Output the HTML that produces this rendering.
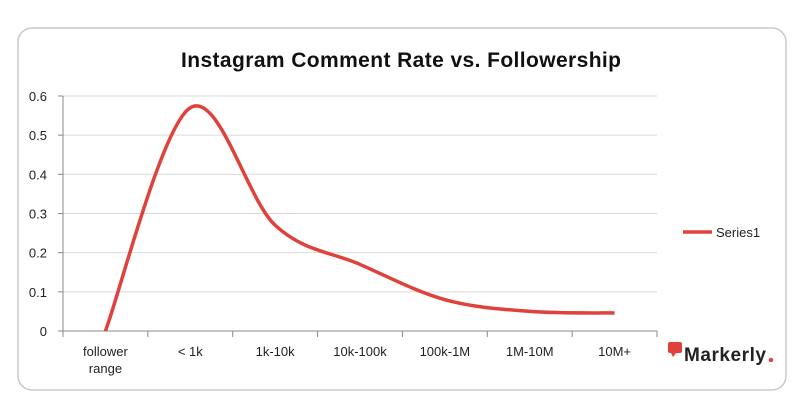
<!DOCTYPE html>
<html><head><style>
body{margin:0;background:#fff;width:797px;height:413px;overflow:hidden;font-family:"Liberation Sans",sans-serif}
</style></head><body>
<svg width="797" height="413">
<rect x="18" y="28" width="768" height="362" rx="14" fill="#fff" stroke="#c8c8c8" stroke-width="1.5"/>
<text x="401" y="67" text-anchor="middle" font-size="21" font-weight="bold" fill="#111" textLength="440">Instagram Comment Rate vs. Followership</text>
<g id="grid"></g><g id="axes"></g><path id="line" fill="none" stroke="#e0413a" stroke-width="3.5"/>
<line x1="683" y1="232" x2="712" y2="232" stroke="#e0413a" stroke-width="3.5"/>
<text x="716" y="237" font-size="13" fill="#222">Series1</text>
<g>
<rect x="668" y="342" width="14" height="11" rx="2" fill="#e0413a"/>
<path d="M671 353 L673 357 L676 353Z" fill="#e0413a"/>
<text x="684" y="361" font-size="19" font-weight="bold" fill="#222" textLength="82">Markerly</text>
<circle cx="771" cy="360" r="2.2" fill="#e0413a"/>
</g>
</svg>
<script>
const categories=["follower range","< 1k","1k-10k","10k-100k","100k-1M","1M-10M","10M+"];
const values=[0,0.57,0.27,0.17,0.08,0.05,0.046];
const yTicks=[0,0.1,0.2,0.3,0.4,0.5,0.6];
const ns="http://www.w3.org/2000/svg";
const x0=63,x1=657,y0=331,yTop=96,ymax=0.6;
const bw=(x1-x0)/categories.length;
const X=i=>x0+bw*(i+0.5), Y=v=>y0-(v/ymax)*(y0-yTop);
const g=document.getElementById('grid'),a=document.getElementById('axes');
function mk(p,tag,attrs){const e=document.createElementNS(ns,tag);for(const k in attrs)e.setAttribute(k,attrs[k]);p.appendChild(e);return e;}
yTicks.forEach(t=>{
 const l=mk(g,'line',{x1:x0,x2:x1,y1:Y(t),y2:Y(t),stroke:t===0?'#888':'#d9d9d9','stroke-width':1});
 
 
 const tx=mk(a,'text',{x:47,y:Y(t)+5,'text-anchor':'end','font-size':13,fill:'#222'});
 tx.textContent=String(t);
 
 
 mk(a,'line',{x1:x0-5,x2:x0,y1:Y(t),y2:Y(t),stroke:'#888'});
});
mk(a,'line',{x1:x0,x2:x0,y1:yTop,y2:y0,stroke:'#888'});
for(let i=0;i<=categories.length;i++)mk(a,'line',{x1:x0+bw*i,x2:x0+bw*i,y1:y0,y2:y0+6,stroke:'#888'});
categories.forEach((c,i)=>{
 const parts=c==="follower range"?["follower","range"]:[c];
 parts.forEach((p,j)=>{
  const t=mk(a,'text',{x:X(i),y:356+j*17,'text-anchor':'middle','font-size':13,fill:'#222'});
  t.textContent=p;
  
  
 });
});
const pts=values.map((v,i)=>[X(i),Y(v)]);
let d=`M${pts[0][0]},${pts[0][1]}`;
for(let i=0;i<pts.length-1;i++){
 const p0=pts[Math.max(i-1,0)],p1=pts[i],p2=pts[i+1],p3=pts[Math.min(i+2,pts.length-1)];
 const c1=[p1[0]+(p2[0]-p0[0])/6,p1[1]+(p2[1]-p0[1])/6],c2=[p2[0]-(p3[0]-p1[0])/6,p2[1]-(p3[1]-p1[1])/6];
 d+=` C${c1[0]},${c1[1]} ${c2[0]},${c2[1]} ${p2[0]},${p2[1]}`;
}
document.getElementById('line').setAttribute('d',d);
</script>
</body></html>
